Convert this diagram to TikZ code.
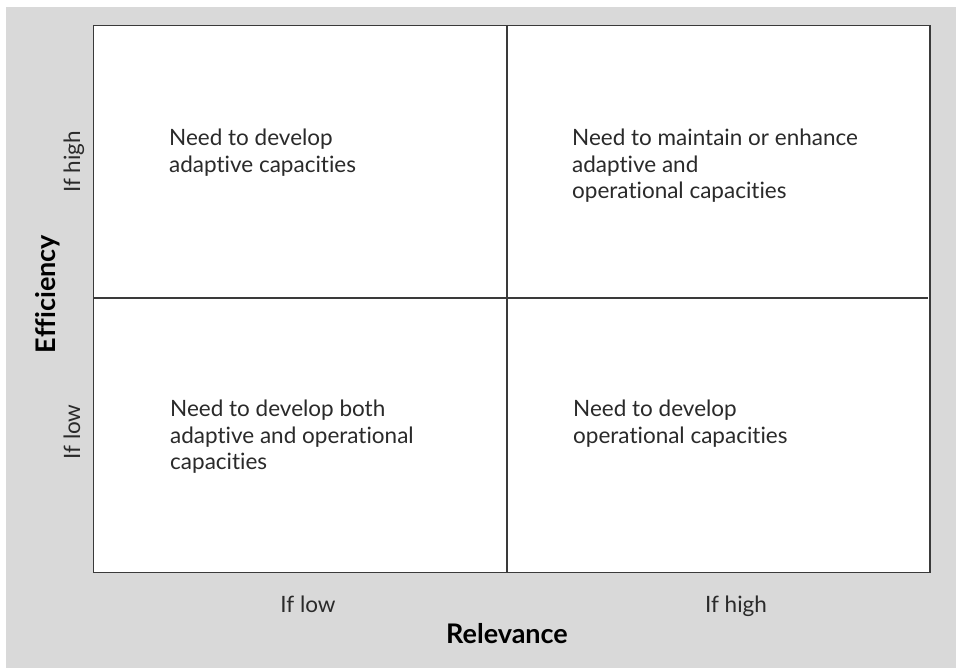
\documentclass[tikz,border=0pt]{standalone}
\usepackage{fontspec}
\setmainfont{Lato}[Ligatures={NoCommon,NoDiscretionary}]
\definecolor{bggray}{HTML}{D9D9D9}
\definecolor{linegray}{HTML}{3A3A3A}
\definecolor{txt}{HTML}{2A2A2A}
\begin{document}
\begin{tikzpicture}[x=1pt,y=-1pt,
  frame/.style={draw=linegray,line width=1.4pt},
  quad/.style={anchor=north west,inner sep=0pt,align=left,text=txt,font=\fontsize{22.5}{26.5}\selectfont},
  tick/.style={inner sep=0pt,text=txt,font=\fontsize{22.5}{26}\selectfont},
  axis/.style={inner sep=0pt,text=black,font=\fontsize{27}{31}\selectfont\bfseries}]
\useasboundingbox (0,0) rectangle (956,668);
\fill[white] (0,0) rectangle (956,668);
\fill[bggray] (6,7) rectangle (956,668);
\fill[white] (93.5,25.5) rectangle (930,572.5);
\coordinate (tl) at (93.5,25.5);
\coordinate (br) at (930,572.5);
\coordinate (mt) at (507,25.5);
\coordinate (mb) at (507,572.5);
\coordinate (ml) at (93.5,298);
\coordinate (mr) at (928,298);
\draw[frame] (mt) -- (mb);
\draw[frame] (ml) -- (mr);
\draw[frame] (tl) rectangle (br);
\node[quad] (q1) at (169,129) {Need to develop\\adaptive capacities};
\node[quad] (q2) at (572,129) {Need to maintain or enhance\\adaptive and\\operational capacities};
\node[quad] (q3) at (170,400) {Need to develop both\\adaptive and operational\\capacities};
\node[quad] (q4) at (573,400) {Need to develop\\operational capacities};
\node[tick,anchor=base] (xl) at (308,612) {If low};
\node[tick,anchor=base] (xh) at (736,612) {If high};
\node[axis,anchor=base] (xa) at (507,643) {Relevance};
\node[tick,anchor=base,rotate=90] (yh) at (80,162) {If high};
\node[tick,anchor=base,rotate=90] (yl) at (80,432) {If low};
\node[axis,anchor=base,rotate=90] (ya) at (55,294) {Efficiency};
\end{tikzpicture}
\end{document}
